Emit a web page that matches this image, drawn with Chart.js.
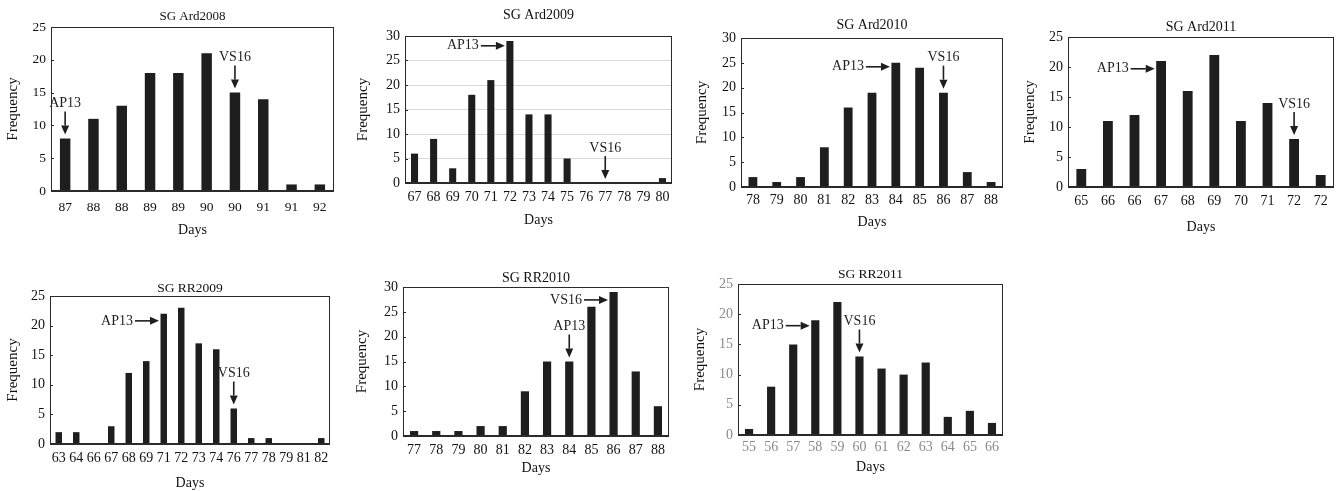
<!DOCTYPE html>
<html><head><meta charset="utf-8">
<script src="https://cdn.jsdelivr.net/npm/chart.js@4.4.0/dist/chart.umd.min.js"></script>
<style>
html,body{margin:0;padding:0;background:#fff;width:1341px;height:491px;overflow:hidden;position:relative}
canvas{position:absolute}
</style></head><body>
<script>
// ---------- DATA ----------
const ard2008Days = ['87','88','88','89','89','90','90','91','91','92'];
const ard2008Freq = [8,11,13,18,18,21,15,14,1,1];
const ard2008Marks = [{label:'AP13', index:0, dir:'down'}, {label:'VS16', index:6, dir:'down'}];

const ard2009Days = ['67','68','69','70','71','72','73','74','75','76','77','78','79','80'];
const ard2009Freq = [6,9,3,18,21,29,14,14,5,0,0,0,0,1];
const ard2009Marks = [{label:'AP13', index:5, dir:'right', level:28}, {label:'VS16', index:10, dir:'down'}];

const ard2010Days = ['78','79','80','81','82','83','84','85','86','87','88'];
const ard2010Freq = [2,1,2,8,16,19,25,24,19,3,1];
const ard2010Marks = [{label:'AP13', index:6, dir:'right', level:24.2}, {label:'VS16', index:8, dir:'down'}];

const ard2011Days = ['65','66','66','67','68','69','70','71','72','72'];
const ard2011Freq = [3,11,12,21,16,22,11,14,8,2];
const ard2011Marks = [{label:'AP13', index:3, dir:'right', level:19.7}, {label:'VS16', index:8, dir:'down'}];

const rr2009Days = ['63','64','66','67','68','69','71','72','73','74','76','77','78','79','81','82'];
const rr2009Freq = [2,2,0,3,12,14,22,23,17,16,6,1,1,0,0,1];
const rr2009Marks = [{label:'AP13', index:6, dir:'right', level:20.8}, {label:'VS16', index:10, dir:'down'}];

const rr2010Days = ['77','78','79','80','81','82','83','84','85','86','87','88'];
const rr2010Freq = [1,1,1,2,2,9,15,15,26,29,13,6];
const rr2010Marks = [{label:'VS16', index:9, dir:'right', level:27.4}, {label:'AP13', index:7, dir:'down'}];

const rr2011Days = ['55','56','57','58','59','60','61','62','63','64','65','66'];
const rr2011Freq = [1,8,15,19,22,13,11,10,12,3,4,2];
const rr2011Marks = [{label:'AP13', index:3, dir:'right', level:18.1}, {label:'VS16', index:5, dir:'down'}];

const yMaxes = [25, 30, 30, 25, 25, 30, 25];

// ---------- LAYOUT ----------
const panels = [
  {title:'SG Ard2008', days:ard2008Days, freq:ard2008Freq, marks:ard2008Marks, ymax:yMaxes[0], l:51, t:27, r:334, b:191, ty:17, fx:13, dy:230, tickY:207, fs:13.5, tfs:13},
  {title:'SG Ard2009', days:ard2009Days, freq:ard2009Freq, marks:ard2009Marks, ymax:yMaxes[1], l:405, t:36, r:672, b:183, ty:15, fx:363, dy:220, tickY:197, fs:14, tfs:14, grid:true},
  {title:'SG Ard2010', days:ard2010Days, freq:ard2010Freq, marks:ard2010Marks, ymax:yMaxes[2], l:741, t:38, r:1003, b:187, ty:25, fx:702, dy:222, tickY:200, fs:14, tfs:14},
  {title:'SG Ard2011', days:ard2011Days, freq:ard2011Freq, marks:ard2011Marks, ymax:yMaxes[3], l:1068, t:37, r:1334, b:187, ty:27, fx:1030, dy:227, tickY:201, fs:14, tfs:14},
  {title:'SG RR2009', days:rr2009Days, freq:rr2009Freq, marks:rr2009Marks, ymax:yMaxes[4], l:50, t:296, r:330, b:444, ty:288, fx:13, dy:483, tickY:458, fs:14, tfs:13.5},
  {title:'SG RR2010', days:rr2010Days, freq:rr2010Freq, marks:rr2010Marks, ymax:yMaxes[5], l:403, t:287, r:669, b:436, ty:278, fx:362, dy:468, tickY:450, fs:14, tfs:14},
  {title:'SG RR2011', days:rr2011Days, freq:rr2011Freq, marks:rr2011Marks, ymax:yMaxes[6], l:738, t:284, r:1003, b:435, ty:274, fx:700, dy:467, tickY:447, fs:14, tfs:13.5, tickColor:'#8a8a8a'}
];

const FONT = "'Liberation Serif', 'Times New Roman', serif";
const INK = '#1e1e1e';

function drawArrow(ctx, x1, y1, x2, y2) {
  const ang = Math.atan2(y2 - y1, x2 - x1);
  const hl = 9, hw = 4;
  const bx = x2 - hl * Math.cos(ang), by = y2 - hl * Math.sin(ang);
  ctx.beginPath(); ctx.moveTo(x1, y1); ctx.lineTo(bx, by); ctx.lineWidth = 1.6; ctx.stroke();
  ctx.beginPath();
  ctx.moveTo(x2, y2);
  ctx.lineTo(bx + hw * Math.sin(ang), by - hw * Math.cos(ang));
  ctx.lineTo(bx - hw * Math.sin(ang), by + hw * Math.cos(ang));
  ctx.closePath(); ctx.fill();
}

const framePlugin = {
  id: 'frame',
  afterDatasetsDraw(chart, args, opts) {
    const {ctx, chartArea: a, scales} = chart;
    ctx.save();
    ctx.strokeStyle = '#2a2a2a'; ctx.fillStyle = INK; ctx.lineWidth = 1;
    scales.y.ticks.forEach(t => {
      const py = Math.round(scales.y.getPixelForValue(t.value)) + 0.5;
      ctx.beginPath(); ctx.moveTo(a.left, py); ctx.lineTo(a.left + 3, py); ctx.stroke();
    });
    ctx.strokeRect(Math.round(a.left) + 0.5, Math.round(a.top) + 0.5, Math.round(a.right - a.left) - 1, Math.round(a.bottom - a.top));
    ctx.lineWidth = 2; ctx.beginPath(); ctx.moveTo(a.left, Math.round(a.bottom)); ctx.lineTo(a.right, Math.round(a.bottom)); ctx.stroke();
    const meta = chart.getDatasetMeta(0);
    ctx.strokeStyle = INK;
    ctx.font = '14px ' + FONT;
    (opts.marks || []).forEach(m => {
      const bar = meta.data[m.index];
      if (m.dir === 'down') {
        const tip = bar.y - 4;
        drawArrow(ctx, bar.x, tip - 23, bar.x, tip);
        ctx.textAlign = 'center'; ctx.textBaseline = 'middle';
        ctx.fillText(m.label, bar.x, tip - 31);
      } else {
        const y = scales.y.getPixelForValue(m.level);
        const tipX = bar.x - bar.width / 2 - 1.5;
        drawArrow(ctx, tipX - 24, y, tipX, y);
        ctx.textAlign = 'right'; ctx.textBaseline = 'middle';
        ctx.fillText(m.label, tipX - 26, y);
      }
    });
    ctx.restore();
  }
};

panels.forEach(p => {
  const yW = 55, xH = 50, topH = 30, padR = 8;
  const cl = p.l - yW, ct = p.t - topH;
  const cw = p.r - cl + padR, ch = p.b + xH - ct;
  const cv = document.createElement('canvas');
  cv.width = cw; cv.height = ch;
  cv.style.left = cl + 'px'; cv.style.top = ct + 'px';
  cv.style.width = cw + 'px'; cv.style.height = ch + 'px';
  document.body.appendChild(cv);
  const tLH = p.tfs * 1.2;
  const tPt = p.ty - ct - tLH / 2;
  const tPb = topH - tPt - tLH;
  const aLH = 14 * 1.2;
  const fLH = 15 * 1.2;
  const tickCol = p.tickColor || '#111';
  new Chart(cv, {
    type: 'bar',
    data: { labels: p.days, datasets: [{ data: p.freq, backgroundColor: INK, borderWidth: 0, barPercentage: 0.37, categoryPercentage: 1 }] },
    options: {
      responsive: false, animation: false, devicePixelRatio: 1,
      layout: { padding: { left: 0, top: 0, right: padR, bottom: 0 } },
      plugins: {
        legend: { display: false }, tooltip: { enabled: false },
        title: { display: true, text: p.title, fullSize: false, color: '#111',
          font: { family: FONT, size: p.tfs, weight: 'normal' }, padding: { top: tPt, bottom: tPb } },
        frame: { marks: p.marks }
      },
      scales: {
        x: {
          offset: true,
          grid: { display: false, drawTicks: false },
          border: { display: false },
          ticks: { autoSkip: false, maxRotation: 0, minRotation: 0, color: tickCol,
            font: { family: FONT, size: p.fs }, padding: p.tickY - p.b - p.fs * 0.6 },
          title: { display: true, text: 'Days', color: '#111', font: { family: FONT, size: 14 },
            padding: { top: 0, bottom: p.b + xH - aLH / 2 - p.dy } },
          afterFit(s) { s.height = xH; }
        },
        y: {
          min: 0, max: p.ymax,
          grid: { display: !!p.grid, color: '#d9d9d9', drawTicks: false, lineWidth: 1 },
          border: { display: false },
          ticks: { stepSize: 5, color: tickCol, font: { family: FONT, size: p.fs }, padding: 5 },
          title: { display: true, text: 'Frequency', color: '#111', font: { family: FONT, size: 15 },
            padding: { top: p.fx - cl - fLH / 2, bottom: 0 } },
          afterFit(s) { s.width = yW; }
        }
      }
    },
    plugins: [framePlugin]
  });
});
</script>
</body></html>
